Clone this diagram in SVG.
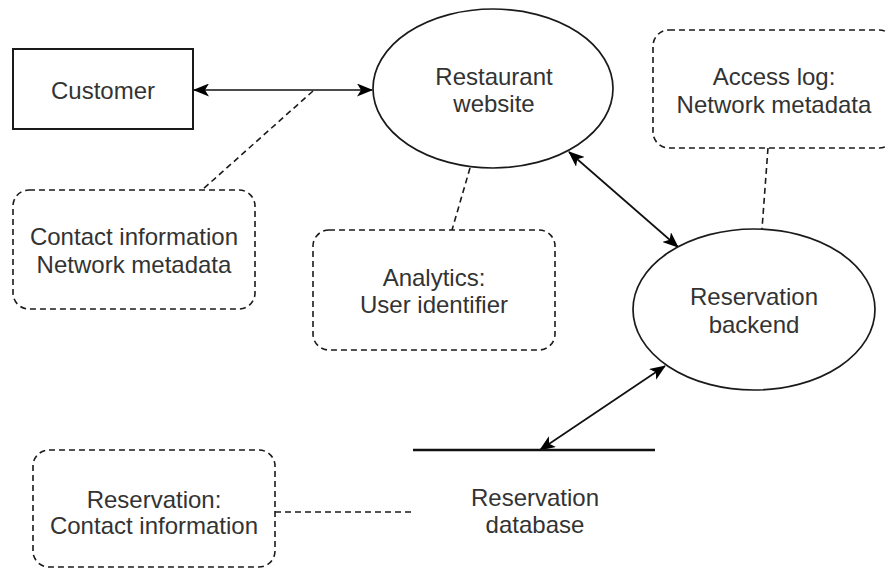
<svg xmlns="http://www.w3.org/2000/svg" width="886" height="568" viewBox="0 0 886 568">
  <style>
    .shape { fill: #ffffff; stroke: #1a1a1a; stroke-width: 1.7; }
    .box { stroke-width: 2; }
    .note { fill: #ffffff; stroke: #1a1a1a; stroke-width: 1.6; stroke-dasharray: 6 4; }
    .flow { fill: none; stroke: #111111; stroke-width: 1.7; }
    .link { fill: none; stroke: #1a1a1a; stroke-width: 1.6; stroke-dasharray: 6 4; }
    .store { fill: none; stroke: #111111; stroke-width: 2.4; }
    text { font-family: "Liberation Sans", Arial, sans-serif; font-size: 24px; fill: #333333; text-anchor: middle; }
  </style>
  <defs>
    <marker id="arrow" viewBox="0 0 16 13" refX="15" refY="6.5" markerWidth="16" markerHeight="13" markerUnits="userSpaceOnUse" orient="auto-start-reverse">
      <path d="M0,0 L16,6.5 L0,13 L4,6.5 Z" fill="#000000"/>
    </marker>
  </defs>

  <!-- connectors -->
  <g id="connectors">
    <line class="flow" x1="194" y1="90" x2="372" y2="90" stroke-width="2.2" marker-start="url(#arrow)" marker-end="url(#arrow)"/>
    <line class="flow" x1="569" y1="152" x2="678" y2="247" marker-start="url(#arrow)" marker-end="url(#arrow)"/>
    <line class="flow" x1="540" y1="450" x2="665" y2="366" marker-start="url(#arrow)" marker-end="url(#arrow)"/>
    <line class="link" x1="313" y1="91" x2="202" y2="190"/>
    <line class="link" x1="470" y1="168" x2="452" y2="230"/>
    <line class="link" x1="768" y1="148" x2="762" y2="229"/>
    <line class="link" x1="275" y1="512" x2="413" y2="512"/>
  </g>

  <!-- external entity -->
  <g id="customer">
    <rect class="shape box" x="13" y="49" width="180" height="80"/>
    <text x="103" y="99">Customer</text>
  </g>

  <!-- processes -->
  <g id="restaurant-website">
    <ellipse class="shape" cx="493" cy="88.5" rx="120" ry="79.5"/>
    <text x="494" y="85">Restaurant</text>
    <text x="494" y="112">website</text>
  </g>

  <g id="reservation-backend">
    <ellipse class="shape" cx="754" cy="309.5" rx="121" ry="80.5"/>
    <text x="754" y="305">Reservation</text>
    <text x="754" y="333">backend</text>
  </g>

  <!-- data store -->
  <g id="reservation-database">
    <line class="store" x1="413" y1="450" x2="655" y2="450"/>
    <text x="535" y="506">Reservation</text>
    <text x="535" y="533">database</text>
  </g>

  <!-- annotations -->
  <g id="note-contact">
    <rect class="note" x="13" y="190" width="242" height="119" rx="16" ry="16"/>
    <text x="134" y="245">Contact information</text>
    <text x="134" y="273">Network metadata</text>
  </g>

  <g id="note-analytics">
    <rect class="note" x="313" y="230" width="242" height="120" rx="16" ry="16"/>
    <text x="434" y="286">Analytics:</text>
    <text x="434" y="313">User identifier</text>
  </g>

  <g id="note-access-log">
    <rect class="note" x="653" y="30" width="242" height="118" rx="16" ry="16"/>
    <text x="774" y="85">Access log:</text>
    <text x="774" y="113">Network metadata</text>
  </g>

  <g id="note-reservation">
    <rect class="note" x="33" y="450" width="242" height="117" rx="16" ry="16"/>
    <text x="154" y="508">Reservation:</text>
    <text x="154" y="534">Contact information</text>
  </g>
</svg>
